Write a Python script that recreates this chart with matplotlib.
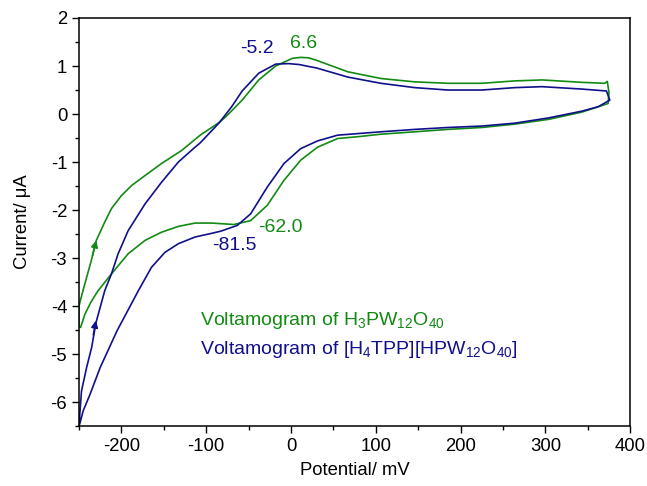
import matplotlib
matplotlib.use("Agg")
import matplotlib.pyplot as plt

plt.rcParams['font.family'] = ['Liberation Sans', 'DejaVu Sans']
plt.rcParams['mathtext.fontset'] = 'custom'
plt.rcParams['mathtext.rm'] = 'Liberation Sans'
plt.rcParams['mathtext.it'] = 'Liberation Sans:italic'
plt.rcParams['axes.unicode_minus'] = False

GREEN = '#138a13'
BLUE = '#10108c'

# H3PW12O40 cycle (potential mV, current uA)
pw_potential = [-250, -250, -245.3, -235.4, -229.5, -219.6, -211.7, -200, -188, -172,
                -152.6, -129, -107, -85, -77, -57.5, -38, -18, 1.7, 11.5, 21, 30, 67,
                106, 146, 185, 225, 264, 296, 343, 370, 373, 375, 374,
                362, 343, 304, 264, 225, 185, 146, 106, 80, 55, 31.3, 11.5, -8.2, -27.9,
                -47.6, -67.4, -93.4, -113, -132.8, -152.6, -172, -192, -211.7, -227.5,
                -236, -243, -248]
pw_current = [-4.44, -4.0, -3.68, -3.05, -2.63, -2.25, -1.97, -1.70, -1.49, -1.28,
              -1.03, -0.76, -0.44, -0.18, -0.06, 0.29, 0.71, 1.0, 1.16, 1.18, 1.17, 1.12,
              0.88, 0.74, 0.67, 0.64, 0.64, 0.69, 0.71, 0.66, 0.64, 0.68, 0.45, 0.22,
              0.15, 0.04, -0.11, -0.21, -0.28, -0.32, -0.37, -0.42, -0.47, -0.51, -0.69,
              -0.96, -1.38, -1.90, -2.22, -2.30, -2.27, -2.27, -2.34, -2.46, -2.63, -2.91,
              -3.33, -3.68, -3.92, -4.17, -4.44]

# [H4TPP][HPW12O40] cycle
tpp_potential = [-250, -247, -241, -235, -230, -219.6, -211.7, -203.8, -192, -172, -152.6,
                 -132.8, -115, -107, -85, -70, -57.5, -38, -18, -3, 10, 21, 30, 67, 106,
                 146, 185, 225, 264, 296, 343, 372, 376,
                 362, 343, 304, 264, 225, 185, 146, 106, 55, 31.3, 11.5, -8.2, -27.9,
                 -47.6, -63.4, -83, -95, -113, -132.8, -148.6, -164.4, -180, -186, -205,
                 -225, -237, -245, -249]
tpp_current = [-6.5, -5.77, -5.28, -4.86, -4.35, -3.68, -3.33, -2.91, -2.43, -1.87, -1.42,
               -1.0, -0.72, -0.60, -0.19, 0.15, 0.48, 0.85, 1.04, 1.05, 1.03, 0.99, 0.96,
               0.77, 0.64, 0.55, 0.50, 0.50, 0.55, 0.57, 0.52, 0.48, 0.29,
               0.15, 0.06, -0.08, -0.19, -0.25, -0.28, -0.32, -0.37, -0.44, -0.56, -0.72,
               -1.03, -1.52, -2.08, -2.32, -2.44, -2.49, -2.56, -2.70, -2.88, -3.19, -3.68,
               -3.88, -4.51, -5.28, -5.84, -6.18, -6.45]

# peak labels: (text, x, y)
pw_peaks = [('6.6', 15, 1.46), ('-62.0', -13, -2.36)]
tpp_peaks = [('-5.2', -40, 1.37), ('-81.5', -67, -2.74)]

# scan direction arrows: (x_from, y_from, x_to, y_to)
pw_arrow = (-234, -2.95, -229.5, -2.63)
tpp_arrow = (-233, -4.60, -230, -4.30)

fig = plt.figure(figsize=(6.47, 4.86), dpi=100)
ax = fig.add_axes([0.122, 0.123, 0.852, 0.840])

ax.plot(pw_potential, pw_current, color=GREEN, lw=1.2)
ax.plot(tpp_potential, tpp_current, color=BLUE, lw=1.2)

for x0, y0, x1, y1, c in [pw_arrow + (GREEN,), tpp_arrow + (BLUE,)]:
    ax.annotate('', xy=(x1, y1), xytext=(x0, y0),
                arrowprops=dict(arrowstyle='-|>', color=c, lw=1.2, mutation_scale=10,
                                shrinkA=0, shrinkB=0))

for txt, x, y in pw_peaks:
    ax.text(x, y, txt, color=GREEN, fontsize=14, ha='center', va='center')
for txt, x, y in tpp_peaks:
    ax.text(x, y, txt, color=BLUE, fontsize=14, ha='center', va='center')

ax.text(-107, -4.30, r'Voltamogram of H$_3$PW$_{12}$O$_{40}$', color=GREEN,
        fontsize=14, ha='left', va='center')
ax.text(-107, -4.91, r'Voltamogram of [H$_4$TPP][HPW$_{12}$O$_{40}$]', color=BLUE,
        fontsize=14, ha='left', va='center')

ax.set_xlim(-250, 400)
ax.set_ylim(-6.5, 2)
ax.set_xticks(range(-200, 401, 100))
ax.set_xticks(range(-250, 401, 50), minor=True)
ax.set_yticks(range(-6, 3))
ax.set_yticks([v / 2 for v in range(-13, 5)], minor=True)
ax.tick_params(which='both', direction='out', top=False, right=False, labelsize=13.3)
ax.tick_params(which='major', length=5, width=1)
ax.tick_params(which='minor', length=3, width=1)
for s in ax.spines.values():
    s.set_linewidth(1.1)

ax.set_xlabel('Potential/ mV', fontsize=13.3, labelpad=5)
ax.set_ylabel('Current/ μA', fontsize=13.3, labelpad=14)

fig.savefig('out.png', dpi=100)
